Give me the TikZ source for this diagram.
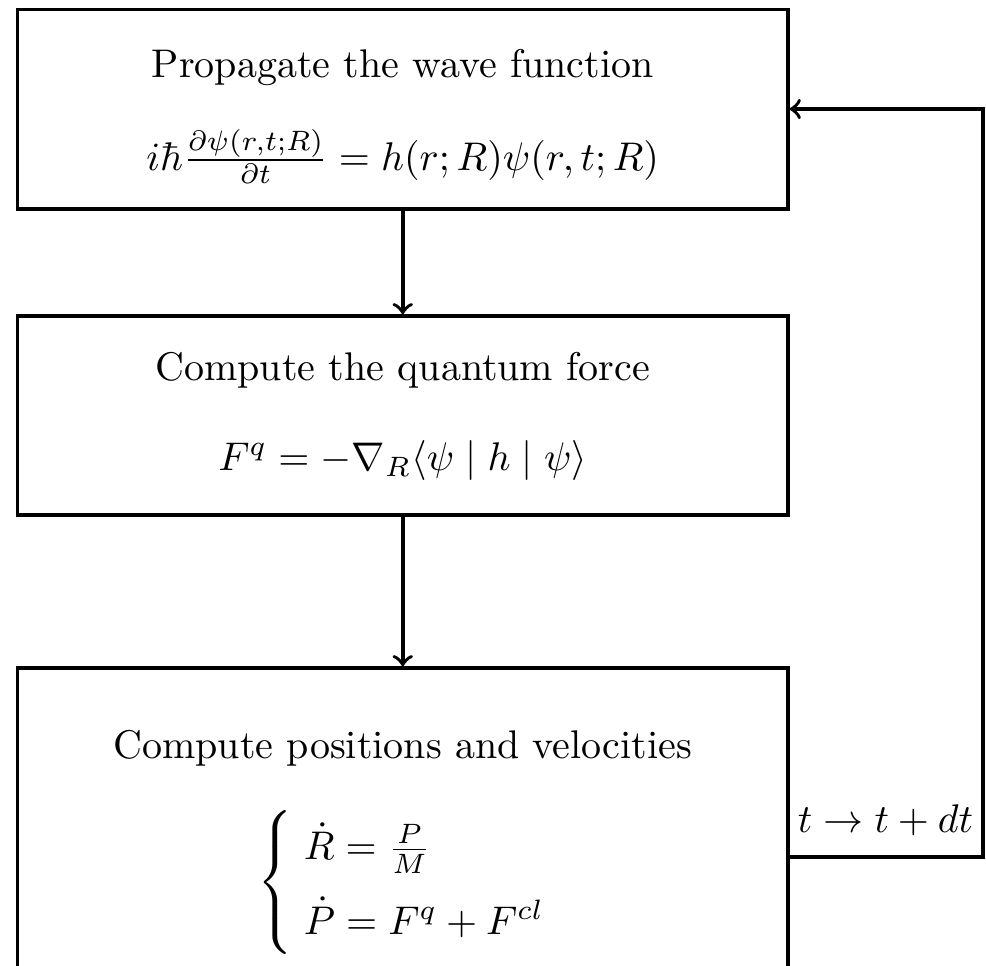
\documentclass[tikz,border=0pt]{standalone}
\usepackage{amsmath}
\begin{document}
\begin{tikzpicture}[x=0.25pt,y=-0.25pt,
  stepbox/.style={draw,line width=0.9pt,inner sep=0pt,rectangle},
  txt/.style={anchor=base,inner sep=0pt,font=\normalsize},
  conn/.style={line width=0.9pt,->}]
\useasboundingbox (0,0) rectangle (986,965);
\clip (0,0) rectangle (986,965);
\node[stepbox,minimum width=192.6pt,minimum height=49.9pt] (b1) at (402.75,109.25) {};
\node[stepbox,minimum width=192.6pt,minimum height=49.75pt] (b2) at (402.75,415.5) {};
\node[stepbox,minimum width=192.6pt,minimum height=83pt] (b3) at (402.75,834) {};
\node[txt] (t1) at (402.75,77) {Propagate the wave function};
\node[txt] (e1) at (402.75,170) {$i\hbar\frac{\partial\psi(r,t;R)}{\partial t} = h(r;R)\psi(r,t;R)$};
\node[txt] (t2) at (402.75,380) {Compute the quantum force};
\node[txt] (e2) at (402.75,470) {$F^{q} = -\nabla_{R}\langle\psi \mid h \mid \psi\rangle$};
\node[txt] (t3) at (402.75,758) {Compute positions and velocities};
\node[anchor=center,inner sep=0pt] (e3) at (403,882) {$\left\{\renewcommand{\arraystretch}{1.55}\begin{array}{@{\;}l@{}}\dot{R} = \frac{P}{M}\\ \dot{P} = F^{q} + F^{cl}\end{array}\right.$};
\coordinate (c1) at (983,857);
\coordinate (c2) at (983,109);
\node[txt] (lbl) at (885.5,832) {$t \to t + dt$};
\draw[conn] (b1.south) -- (b2.north);
\draw[conn] (b2.south) -- (b3.north);
\draw[conn] (b3.east |- c1) -- (c1) -- (c2) -- (b1.east |- c2);
\end{tikzpicture}
\end{document}
